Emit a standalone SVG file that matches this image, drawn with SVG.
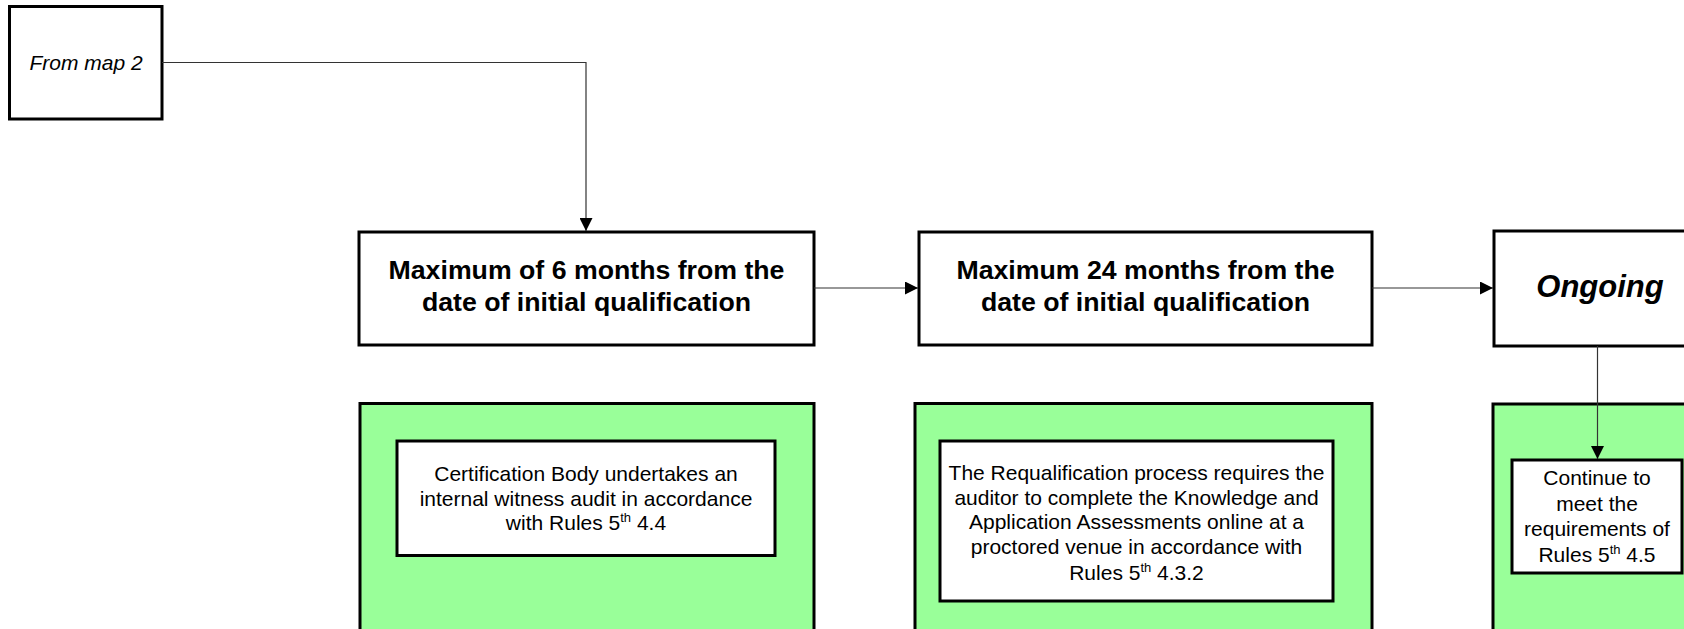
<svg xmlns="http://www.w3.org/2000/svg" width="1684" height="629" viewBox="0 0 1684 629">
<defs>
<style>
.box{fill:#fff;stroke:#000;stroke-width:3}
.green{fill:#99FF99;stroke:#000;stroke-width:3}
.inner{fill:#fff;stroke:#000;stroke-width:3}
.conn{fill:none;stroke:#333;stroke-width:1.2}
.t{font-family:"Liberation Sans",Arial,sans-serif;fill:#000;text-anchor:middle}
.title{font-size:26.7px;font-weight:bold}
.body{font-size:21px}
.sup{font-size:13px}
</style>
<marker id="arr" markerWidth="13" markerHeight="13" refX="13" refY="6.5" orient="auto" markerUnits="userSpaceOnUse">
<path d="M0,0 L13,6.5 L0,13 Z" fill="#000"/>
</marker>
</defs>
<rect width="1684" height="629" fill="#fff"/>
<g id="from-map-2">
<rect class="box" x="9.5" y="6.5" width="152.5" height="112.5"/>
<text class="t body" x="86" y="70" font-style="italic">From map 2</text>
</g>
<g id="stage-6-months">
<rect class="box" x="359" y="232" width="455" height="113"/>
<text class="t title" x="586.5" y="279">Maximum of 6 months from the</text>
<text class="t title" x="586.5" y="311">date of initial qualification</text>
</g>
<g id="stage-24-months">
<rect class="box" x="919" y="232" width="453" height="113"/>
<text class="t title" x="1145.5" y="279">Maximum 24 months from the</text>
<text class="t title" x="1145.5" y="311">date of initial qualification</text>
</g>
<g id="stage-ongoing">
<rect class="box" x="1494" y="231" width="230" height="115"/>
<text class="t" x="1600" y="297" font-size="31" font-weight="bold" font-style="italic">Ongoing</text>
</g>
<g id="panel-1">
<rect class="green" x="360" y="403.5" width="454" height="240"/>
<rect class="inner" x="397" y="441" width="378" height="114.5"/>
<text class="t body" x="586" y="481">Certification Body undertakes an</text>
<text class="t body" x="586" y="506">internal witness audit in accordance</text>
<text class="t body" x="586" y="530">with Rules 5<tspan class="sup" dy="-8">th</tspan><tspan dy="8"> 4.4</tspan></text>
</g>
<g id="panel-2">
<rect class="green" x="915" y="403.5" width="457" height="240"/>
<rect class="inner" x="940" y="441" width="393" height="160"/>
<text class="t body" x="1136.5" y="480">The Requalification process requires the</text>
<text class="t body" x="1136.5" y="505">auditor to complete the Knowledge and</text>
<text class="t body" x="1136.5" y="529">Application Assessments online at a</text>
<text class="t body" x="1136.5" y="554">proctored venue in accordance with</text>
<text class="t body" x="1136.5" y="580">Rules 5<tspan class="sup" dy="-8">th</tspan><tspan dy="8"> 4.3.2</tspan></text>
</g>
<g id="panel-3">
<rect class="green" x="1493" y="404" width="230" height="240"/>
<rect class="inner" x="1512" y="460" width="170" height="113"/>
<text class="t body" x="1597" y="485">Continue to</text>
<text class="t body" x="1597" y="511">meet the</text>
<text class="t body" x="1597" y="536">requirements of</text>
<text class="t body" x="1597" y="562">Rules 5<tspan class="sup" dy="-8">th</tspan><tspan dy="8"> 4.5</tspan></text>
</g>
<g id="connectors">
<path class="conn" d="M162,62.5 H586 V231" marker-end="url(#arr)"/>
<path class="conn" d="M814,288 H918" marker-end="url(#arr)"/>
<path class="conn" d="M1372,288 H1493" marker-end="url(#arr)"/>
<path class="conn" d="M1597.5,346 V459" marker-end="url(#arr)"/>
</g>
</svg>
